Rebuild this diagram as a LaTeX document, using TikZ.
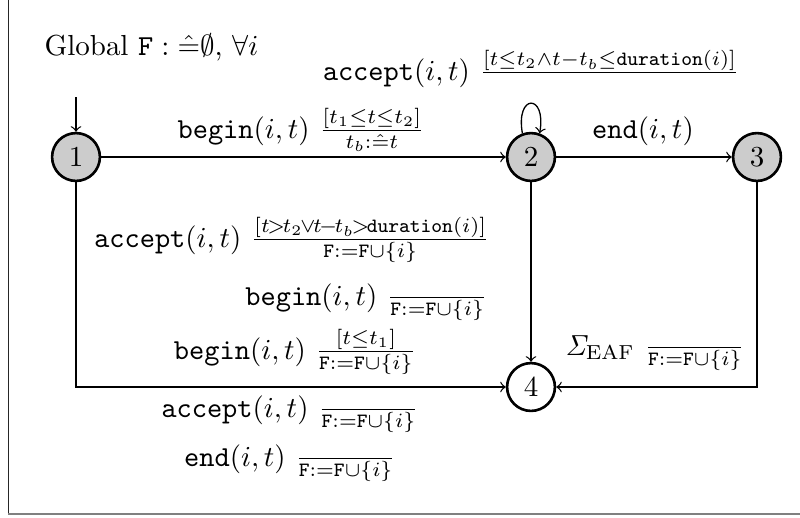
\documentclass[tikz,border=0pt]{standalone}
\usepackage{amsmath,amssymb}
\begin{document}
\begin{tikzpicture}[x=0.345pt,y=-0.345pt,
  st/.style={circle,draw,line width=0.9pt,minimum size=16.5pt,inner sep=0pt,fill=gray!40},
  stw/.style={st,fill=white},
  lbl/.style={inner sep=0pt,anchor=base},
  edg/.style={->,line width=0.45pt}]
\useasboundingbox (0,0) rectangle (800,517);
\draw[line width=0.65pt,black!85] (8.5,0) -- (8.5,514);
\draw[line width=1pt,gray] (8,514) -- (800,514);

\node[lbl,anchor=base west] (glob) at (44,55) {Global $\mathtt{F}:\hat{=}\emptyset$, $\forall i$};

\node[st] (n1) at (76,157) {$1$};
\node[st] (n2) at (531,157) {$2$};
\node[st] (n3) at (757,157) {$3$};
\node[stw] (n4) at (531,387) {$4$};
\coordinate (init) at (76,97);

\draw[edg] (init) -- (n1);
\draw[edg] (n1) -- (n2);
\draw[edg] (n2) -- (n3);
\draw[edg] (n2) -- (n4);
\draw[edg] (n1) |- (n4);
\draw[edg] (n3) |- (n4);
\draw[edg] (n2.110) .. controls +(100:14pt) and +(80:14pt) .. (n2.70);

\node[lbl] (lloop) at (531,80) {$\mathtt{accept}(i,t)\ \frac{[t\le t_2\wedge t-t_b\le\mathtt{duration}(i)]}{}$};
\node[lbl] (l12) at (301,138) {$\mathtt{begin}(i,t)\ \frac{[t_1\le t\le t_2]}{t_b:\hat{=}t}$};
\node[lbl] (l23) at (643,138) {$\mathtt{end}(i,t)$};
\node[lbl,anchor=base east] (l24a) at (490,247) {$\mathtt{accept}(i,t)\ \frac{[t\mkern-2mu{>}\mkern-2mu t_2\mkern-2mu{\vee}\mkern-2mu t\mkern-2mu{-}\mkern-2mu t_b\mkern-2mu{>}\mkern-2mu\mathtt{duration}(i)]}{\mathtt{F}{:=}\mathtt{F}\cup\{i\}}$};
\node[lbl,anchor=base east] (l24b) at (488,305) {$\mathtt{begin}(i,t)\ \frac{}{\mathtt{F}{:=}\mathtt{F}\cup\{i\}}$};
\node[lbl] (l14a) at (295,359) {$\mathtt{begin}(i,t)\ \frac{[t\le t_1]}{\mathtt{F}{:=}\mathtt{F}\cup\{i\}}$};
\node[lbl] (l14b) at (290,417) {$\mathtt{accept}(i,t)\ \frac{}{\mathtt{F}{:=}\mathtt{F}\cup\{i\}}$};
\node[lbl] (l14c) at (290,466) {$\mathtt{end}(i,t)\ \frac{}{\mathtt{F}{:=}\mathtt{F}\cup\{i\}}$};
\node[lbl] (l34) at (655,355) {$\mathit{\Sigma}_{\mathrm{EAF}}\ \frac{}{\mathtt{F}{:=}\mathtt{F}\cup\{i\}}$};
\end{tikzpicture}
\end{document}
